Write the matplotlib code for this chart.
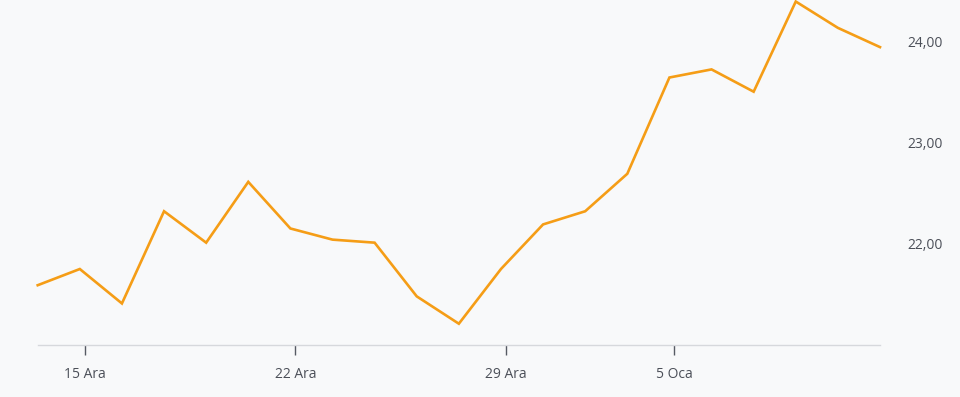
import numpy as np
import matplotlib.pyplot as plt

# closing prices, one per trading day (12 Ara .. 12 Oca)
values = [21.59, 21.75, 21.41, 22.32, 22.01, 22.61, 22.15, 22.04, 22.01, 21.48,
          21.21, 21.75, 22.19, 22.32, 22.69, 23.64, 23.72, 23.50, 24.39, 24.13, 23.94]
tick_idx = [1, 6, 11, 15]
tick_labels = ["15 Ara", "22 Ara", "29 Ara", "5 Oca"]
y_ticks = [22, 23, 24]
y_labels = ["22,00", "23,00", "24,00"]

bg = "#f8f9fa"
line_col = "#f59d16"
text_col = "#4b4f58"

plt.rcParams['font.family'] = ['Open Sans', 'DejaVu Sans']

fig = plt.figure(figsize=(9.6, 3.97), dpi=100, facecolor=bg)
ax = fig.add_axes([37.7 / 960, 52 / 397, 842.3 / 960, 345 / 397])
ax.set_facecolor(bg)

x = np.arange(len(values))
ax.plot(x, values, color=line_col, linewidth=1.9, solid_joinstyle='miter', clip_on=False)

ax.set_xlim(0, len(values) - 1)
ax.set_ylim(21.0, 24.405)

# Ticks sit slightly right of the data points
ax.set_xticks(np.array(tick_idx) + 0.12)
ax.set_xticklabels(tick_labels)
ax.set_yticks(y_ticks)
ax.set_yticklabels(y_labels)

ax.yaxis.tick_right()
ax.tick_params(axis='y', length=0, pad=20, labelsize=10, labelcolor=text_col)
ax.tick_params(axis='x', length=7.5, width=1, color="#555a63", pad=8,
               labelsize=10, labelcolor=text_col)

for s in ['top', 'right', 'left']:
    ax.spines[s].set_visible(False)
ax.spines['bottom'].set_color("#d6d8dc")
ax.spines['bottom'].set_linewidth(1)

fig.savefig("out.png", dpi=100, facecolor=bg)
